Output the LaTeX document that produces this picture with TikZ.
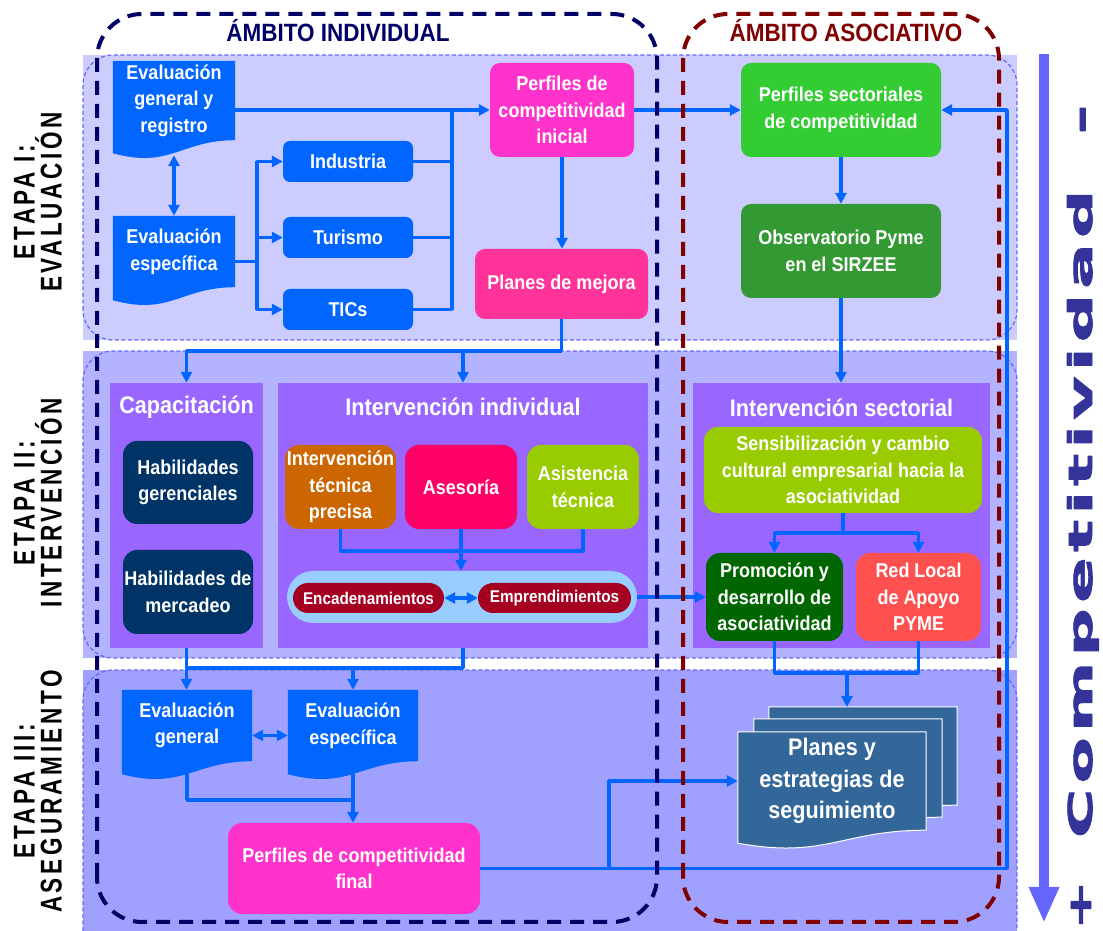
\documentclass[tikz,border=0pt]{standalone}
\usepackage{fontspec}
\setmainfont{Liberation Sans}[FakeStretch=0.9]
\newfontfamily\etapafont{Liberation Sans}[FakeStretch=0.75,LetterSpace=12]
\newfontfamily\compfont{DejaVu Sans}[LetterSpace=8,BoldFeatures={FakeBold=2}]
\usetikzlibrary{arrows.meta}
\definecolor{flowblue}{HTML}{0066FF}
\definecolor{etapaone}{HTML}{CCCCFF}
\definecolor{etapatwo}{HTML}{B3B3FF}
\definecolor{etapathree}{HTML}{A0A0FF}
\definecolor{etapaline}{HTML}{6666FF}
\definecolor{panelviolet}{HTML}{9966FF}
\definecolor{pinkbox}{HTML}{FF33CC}
\definecolor{rosebox}{HTML}{FF3399}
\definecolor{greenbox}{HTML}{33CC33}
\definecolor{darkgreenbox}{HTML}{339933}
\definecolor{navybox}{HTML}{003366}
\definecolor{orangebox}{HTML}{CC6600}
\definecolor{magentabox}{HTML}{FF0066}
\definecolor{limebox}{HTML}{99CC00}
\definecolor{capsulebox}{HTML}{99CCFF}
\definecolor{winebox}{HTML}{A50021}
\definecolor{forestbox}{HTML}{006600}
\definecolor{coralbox}{HTML}{FF5050}
\definecolor{steelbox}{HTML}{336699}
\definecolor{ambitonavy}{HTML}{000066}
\definecolor{ambitored}{HTML}{800000}
\definecolor{compnavy}{HTML}{333399}
\definecolor{comparrow}{HTML}{6666FF}
\pgfdeclarelayer{background}
\pgfsetlayers{background,main}
% document shape behind a node: node, style, shift, width
\newcommand{\docshape}[4]{%
  \begin{pgfonlayer}{background}
    \path [#2] ([shift={#3}]#1.north west) -- ([shift={#3}]#1.north east)
      -- ([shift={#3}]#1.south east)
      .. controls +(-0.45*#4,0bp) and +(0.47*#4,-16bp) .. ([shift={#3},yshift=-13bp]#1.south west)
      -- cycle;
  \end{pgfonlayer}}
\begin{document}
\begin{tikzpicture}[>={Triangle[length=11bp,width=11bp]},line join=bevel,
  every node/.style={inner sep=0pt,align=center,text=white,font=\bfseries\fontsize{20bp}{26.5bp}\selectfont},
  box/.style={rounded corners=10bp,fill=#1},
  panel/.style={fill=panelviolet},
  flow/.style={flowblue,line width=3.5bp},
  etapa/.style={etapaline,line width=1.2bp,dash pattern=on 4bp off 2.5bp,rounded corners=30bp},
  ambito/.style={line width=4bp,dash pattern=on 14bp off 9bp,rounded corners=45bp},
  etapatext/.style={rotate=90,text=black,font=\etapafont\bfseries\fontsize{30bp}{27bp}\selectfont},
  titulo/.style={anchor=base,font=\bfseries\fontsize{24bp}{28bp}\selectfont},
]
\useasboundingbox (0bp,0bp) rectangle (1103bp,931bp);
%% etapas
\begin{pgfonlayer}{background}
  \fill [etapaone] (83bp,591bp) rectangle (1017bp,876bp);
  \fill [etapatwo] (83bp,273bp) rectangle (1017bp,580bp);
  \fill [etapathree] (83bp,0bp) rectangle (1017bp,261bp);
  \draw [etapa] (83bp,591bp) rectangle (1017bp,876bp);
  \draw [etapa] (83bp,273bp) rectangle (1017bp,580bp);
  \draw [etapa] (83bp,-30bp) rectangle (1017bp,261bp);
\end{pgfonlayer}
\node (etapa_1) at (38bp,729bp) [etapatext] {ETAPA I:\\EVALUACIÓN};
\node (etapa_2) at (38bp,428bp) [etapatext] {ETAPA II:\\INTERVENCIÓN};
\node (etapa_3) at (38bp,139.5bp) [etapatext] {ETAPA III:\\ASEGURAMIENTO};
%% etapa I
\node (eval_general) at (174bp,830.5bp) [minimum width=122bp,minimum height=79bp] {Evaluación\\general y\\registro};
\node (eval_especifica) at (174bp,679.5bp) [minimum width=122bp,minimum height=71bp] {Evaluación\\específica};
\docshape{eval_general}{fill=flowblue}{(0bp,0bp)}{122bp}
\docshape{eval_especifica}{fill=flowblue}{(0bp,0bp)}{122bp}
\node (industria) at (348bp,769.5bp) [box=flowblue,rounded corners=7bp,minimum width=130bp,minimum height=41bp] {Industria};
\node (turismo) at (348bp,693.5bp) [box=flowblue,rounded corners=7bp,minimum width=130bp,minimum height=41bp] {Turismo};
\node (tics) at (348bp,621.5bp) [box=flowblue,rounded corners=7bp,minimum width=130bp,minimum height=41bp] {TICs};
\node (perf_inicial) at (562bp,821bp) [box=pinkbox,minimum width=144bp,minimum height=94bp] {Perfiles de\\competitividad\\inicial};
\node (planes_mejora) at (561.5bp,647bp) [box=rosebox,minimum width=173bp,minimum height=70bp] {Planes de mejora};
\node (perf_sectorial) at (841bp,821bp) [box=greenbox,minimum width=200bp,minimum height=94bp] {Perfiles sectoriales\\de competitividad};
\node (observatorio) at (841bp,680bp) [box=darkgreenbox,minimum width=200bp,minimum height=94bp] {Observatorio Pyme\\en el SIRZEE};
%% etapa II
\node (capacitacion) at (186.5bp,415.5bp) [panel,minimum width=153bp,minimum height=265bp] {};
\node (capacitacion_titulo) at (186.5bp,517bp) [titulo] {Capacitación};
\node (hab_gerenciales) at (188bp,448.5bp) [box=navybox,rounded corners=14bp,minimum width=130bp,minimum height=83bp] {Habilidades\\gerenciales};
\node (hab_mercadeo) at (188bp,339bp) [box=navybox,rounded corners=14bp,minimum width=130bp,minimum height=84bp] {Habilidades de\\mercadeo};
\node (int_individual) at (463bp,415.5bp) [panel,minimum width=370bp,minimum height=265bp] {};
\node (int_individual_titulo) at (463bp,515bp) [titulo] {Intervención individual};
\node (int_tecnica) at (340.5bp,444bp) [box=orangebox,rounded corners=14bp,minimum width=111bp,minimum height=84bp] {Intervención\\técnica\\precisa};
\node (asesoria) at (461bp,444bp) [box=magentabox,rounded corners=14bp,minimum width=112bp,minimum height=84bp] {Asesoría};
\node (asistencia) at (583bp,444bp) [box=limebox,rounded corners=14bp,minimum width=112bp,minimum height=84bp] {Asistencia\\técnica};
\node (capsula) at (462bp,334bp) [box=capsulebox,rounded corners=26bp,minimum width=350bp,minimum height=52bp] {};
\node (encadenamientos) at (368.5bp,333bp) [box=winebox,rounded corners=15bp,minimum width=151bp,minimum height=30bp,font=\bfseries\fontsize{17bp}{20bp}\selectfont] {Encadenamientos};
\node (emprendimientos) at (554.5bp,333bp) [box=winebox,rounded corners=15bp,minimum width=153bp,minimum height=30bp,font=\bfseries\fontsize{17bp}{20bp}\selectfont] {Emprendimientos};
\node (int_sectorial) at (841.5bp,415.5bp) [panel,minimum width=297bp,minimum height=265bp] {};
\node (int_sectorial_titulo) at (841.5bp,514bp) [titulo] {Intervención sectorial};
\node (sensibilizacion) at (843bp,461bp) [box=limebox,rounded corners=14bp,minimum width=278bp,minimum height=86bp] {Sensibilización y cambio\\cultural empresarial hacia la\\asociatividad};
\node (promocion) at (774.5bp,334bp) [box=forestbox,rounded corners=14bp,minimum width=137bp,minimum height=88bp] {Promoción y\\desarrollo de\\asociatividad};
\node (red_local) at (918.5bp,334bp) [box=coralbox,rounded corners=14bp,minimum width=125bp,minimum height=88bp] {Red Local\\de Apoyo\\PYME};
%% etapa III
\node (eval_general_fin) at (187bp,205.5bp) [minimum width=130bp,minimum height=71bp] {Evaluación\\general};
\node (eval_especifica_fin) at (353bp,205.5bp) [minimum width=130bp,minimum height=71bp] {Evaluación\\específica};
\docshape{eval_general_fin}{fill=flowblue}{(0bp,0bp)}{130bp}
\docshape{eval_especifica_fin}{fill=flowblue}{(0bp,0bp)}{130bp}
\node (perf_final) at (354bp,62.5bp) [box=pinkbox,rounded corners=14bp,minimum width=252bp,minimum height=91bp] {Perfiles de competitividad\\final};
\node (planes_seguimiento) at (832bp,150bp) [minimum width=188bp,minimum height=98bp,font=\bfseries\fontsize{24bp}{31.5bp}\selectfont] {Planes y\\estrategias de\\seguimiento};
\docshape{planes_seguimiento}{fill=steelbox,draw=white,line width=1bp}{(31bp,25bp)}{188bp}
\docshape{planes_seguimiento}{fill=steelbox,draw=white,line width=1bp}{(16bp,13bp)}{188bp}
\docshape{planes_seguimiento}{fill=steelbox,draw=white,line width=1bp}{(0bp,0bp)}{188bp}
\coordinate (join_1) at (452bp,821bp);
\coordinate (plan_top) at (847bp,224bp);
%% conectores
\draw [flow,<->] ([yshift=-15bp]eval_general.south) -- (eval_especifica.north);
\draw [flow,->] ([yshift=-10bp]eval_especifica.east) -- ++(22bp,0bp) |- (industria.west);
\draw [flow,->] ([yshift=-10bp]eval_especifica.east) -- ++(22bp,0bp) |- (turismo.west);
\draw [flow,->] ([yshift=-10bp]eval_especifica.east) -- ++(22bp,0bp) |- (tics.west);
\draw [flow] (industria.east) -| (join_1);
\draw [flow] (turismo.east) -| (join_1);
\draw [flow] (tics.east) -| (join_1);
\draw [flow,->] (eval_general.east |- perf_inicial.west) -- (perf_inicial.west);
\draw [flow,->] (perf_inicial.south) -- (perf_inicial.south |- planes_mejora.north);
\draw [flow,->] (perf_inicial.east) -- (perf_sectorial.west);
\draw [flow,->] (perf_sectorial.south) -- (observatorio.north);
\draw [flow,->] (observatorio.south) -- (observatorio.south |- int_sectorial.north);
\draw [flow] (planes_mejora.south) -- ++(0bp,-32bp) coordinate (split_1);
\draw [flow,->] (split_1) -| (capacitacion.north);
\draw [flow,->] (split_1) -| (int_individual.north);
\draw [flow] (int_tecnica.south) -- ++(0bp,-22bp) -| (asistencia.south);
\draw [flow,->] (asesoria.south) -- (asesoria.south |- capsula.north);
\draw [flow,<->] (encadenamientos.east) -- (emprendimientos.west);
\draw [flow,->] (capsula.east) -- (capsula.east -| promocion.west);
\draw [flow,->] (sensibilizacion.south) -- ++(0bp,-20bp) -| (promocion.north);
\draw [flow,->] (sensibilizacion.south) -- ++(0bp,-20bp) -| (red_local.north);
\draw [flow,->] (capacitacion.south) -- (capacitacion.south |- eval_general_fin.north);
\draw [flow] (int_individual.south) -- ++(0bp,-20bp) coordinate (merge_1) -| (capacitacion.south);
\draw [flow,->] (merge_1 -| eval_especifica_fin.north) -- (eval_especifica_fin.north);
\draw [flow,<->] ([yshift=-10bp]eval_general_fin.east) -- ([yshift=-10bp]eval_especifica_fin.west);
\draw [flow] ([yshift=-13bp]eval_general_fin.south) -- ++(0bp,-26bp) -| ([yshift=-13bp]eval_especifica_fin.south);
\draw [flow,->] ([yshift=-13bp]eval_especifica_fin.south) -- (eval_especifica_fin.south |- perf_final.north);
\draw [flow] (promocion.south) -- ++(0bp,-32bp) coordinate (merge_2) -| (red_local.south);
\draw [flow,->] (merge_2 -| plan_top) -- (plan_top);
\draw [flow,->] (perf_final.east) -- ++(527bp,0bp) |- (perf_sectorial.east);
\draw [flow,->] (perf_final.east) ++(129bp,0bp) |- (planes_seguimiento.west);
%% ambitos
\draw [ambito,ambitonavy] (97bp,9bp) rectangle (657bp,917bp);
\draw [ambito,ambitored] (683bp,9bp) rectangle (999bp,917bp);
\node (ambito_ind) at (338bp,889bp) [anchor=base,text=ambitonavy,font=\bfseries\fontsize{25bp}{30bp}\selectfont] {ÁMBITO INDIVIDUAL};
\node (ambito_asoc) at (846bp,889bp) [anchor=base,text=ambitored,font=\bfseries\fontsize{25bp}{30bp}\selectfont] {ÁMBITO ASOCIATIVO};
%% competitividad
\coordinate (comp_top) at (1044bp,877bp);
\coordinate (comp_bot) at (1044bp,8bp);
\draw [comparrow,line width=10bp,-{Triangle[length=36bp,width=28bp]}] (comp_top) -- (comp_bot);
\node (competitividad) at (1092bp,417bp) [rotate=90,anchor=base,text=compnavy] {\resizebox{648bp}{25bp}{\compfont\bfseries Competitividad}};
\node (mas) at (1091bp,26bp) [rotate=90,anchor=base,text=compnavy] {\scalebox{1.85}[1]{\compfont\bfseries\fontsize{32bp}{32bp}\selectfont +}};
\node (menos) at (1085bp,811.5bp) [rotate=90,anchor=base,text=compnavy] {\scalebox{1.9}[1]{\compfont\bfseries\fontsize{38bp}{38bp}\selectfont\raisebox{-0.227em}[0.138em][0pt]{-}}};
%
\end{tikzpicture}
\end{document}
